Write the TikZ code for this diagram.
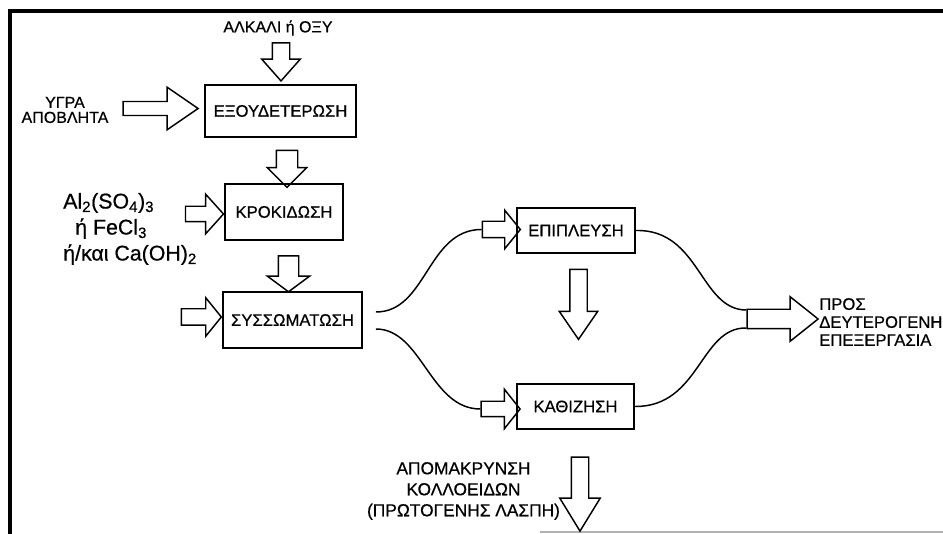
\documentclass[tikz,border=0pt]{standalone}
\usepackage{fontspec}
\setmainfont{Liberation Sans}[FakeBold=0.6]
\usetikzlibrary{shapes.arrows}

\begin{document}
\begin{tikzpicture}[x=0.75pt, y=-0.75pt,
  stagebox/.style={draw, line width=1.3pt, inner sep=0pt, font=\fontsize{12.5}{14}\selectfont},
  blkarrow/.style n args={4}{single arrow, draw, line width=1.1pt, inner xsep=0pt,
    inner ysep=#1, single arrow head extend=#2, single arrow tip angle=#3, minimum height=#4},
  txt/.style={align=center, inner sep=0pt},
  flowline/.style={line width=1.1pt}]
\useasboundingbox (0,0) rectangle (943,534);

% Frame
\draw[line width=3pt] (10,534) -- (10,11) -- (943,11);
\draw[gray!60, line width=0.8pt] (540,532) -- (943,532);

% Process boxes
\node[stagebox, minimum width=113.25pt, minimum height=39pt] (neut) at (280.5,111) {ΕΞΟΥΔΕΤΕΡΩΣΗ};
\node[stagebox, minimum width=88.5pt, minimum height=42pt] (flocc) at (284,212) {ΚΡΟΚΙΔΩΣΗ};
\node[stagebox, minimum width=104.25pt, minimum height=42pt] (coag) at (292.5,320) {ΣΥΣΣΩΜΑΤΩΣΗ};
\node[stagebox, minimum width=88.5pt, minimum height=33.75pt] (flot) at (576,230.5) {ΕΠΙΠΛΕΥΣΗ};
\node[stagebox, minimum width=87.75pt, minimum height=33.75pt] (sedim) at (575.5,406.5) {ΚΑΘΙΖΗΣΗ};

% Texts
\node[txt, font=\fontsize{12}{13}\selectfont] (alk) at (278,28) {ΑΛΚΑΛΙ ή ΟΞΥ};
\node[txt, font=\fontsize{12}{11.25}\selectfont] (waste) at (65,110) {ΥΓΡΑ\\ΑΠΟΒΛΗΤΑ};
\node[txt, align=left, anchor=west, font=\fontsize{16}{19.5}\selectfont] (chem) at (63,229)
  {Al\textsubscript{2}(SO\textsubscript{4})\textsubscript{3}\\\hspace{9pt}ή FeCl\textsubscript{3}\\ή/και Ca(OH)\textsubscript{2}};
\node[txt, align=left, anchor=west, font=\fontsize{12.5}{13.5}\selectfont] (second) at (819,322)
  {ΠΡΟΣ\\ΔΕΥΤΕΡΟΓΕΝΗ\\ΕΠΕΞΕΡΓΑΣΙΑ};
\node[txt, font=\fontsize{13}{15.75}\selectfont] (sludge) at (463.5,491)
  {ΑΠΟΜΑΚΡΥΝΣΗ\\ΚΟΛΛΟΕΙΔΩΝ\\(ΠΡΩΤΟΓΕΝΗΣ ΛΑΣΠΗ)};

% Block arrows
\node[blkarrow={6pt}{7.875pt}{83}{28.5pt}, rotate=-90] (aTop) at (281,57) {};
\node[blkarrow={4.7pt}{10.7pt}{69}{56.25pt}] (aWaste) at (155.5,108.5) {};
\node[blkarrow={7.5pt}{6.75pt}{90}{27.75pt}, rotate=-90] (aDown1) at (287,163.5) {};
\node[blkarrow={5.25pt}{9pt}{96}{28.5pt}] (aChem) at (201,214) {};
\node[blkarrow={7.125pt}{8.25pt}{107}{27pt}, rotate=-90] (aDown2) at (288.5,270) {};
\node[blkarrow={5.625pt}{8.25pt}{102}{30pt}] (aCoag) at (198,317) {};
\node[blkarrow={5.625pt}{8.25pt}{102}{28.5pt}] (aFlot) at (498,229.5) {};
\node[blkarrow={5.25pt}{9pt}{103}{29.25pt}] (aSed) at (497.5,409) {};
\node[blkarrow={6pt}{7.875pt}{69}{52.5pt}, rotate=-90] (aMid) at (578.5,298) {};
\node[blkarrow={6.75pt}{9.375pt}{77}{53.25pt}] (aOut) at (776.5,319) {};
\node[blkarrow={6pt}{8.625pt}{63}{55.5pt}, rotate=-90] (aSludge) at (580,487) {};

% Split and merge lines
\draw[flowline] ([xshift=9.75pt,yshift=6pt]coag.east) .. controls (427,312) and (427,229.5) .. (aFlot.tail);
\draw[flowline] ([xshift=9.75pt,yshift=-6.75pt]coag.east) .. controls (422,329) and (430,409) .. (aSed.tail);
\draw[flowline] (flot.east) .. controls (700,229) and (700,310) .. ([yshift=6.75pt]aOut.tail);
\draw[flowline] (sedim.east) .. controls (700,407) and (700,327) .. ([yshift=-6.75pt]aOut.tail);
\end{tikzpicture}
\end{document}
